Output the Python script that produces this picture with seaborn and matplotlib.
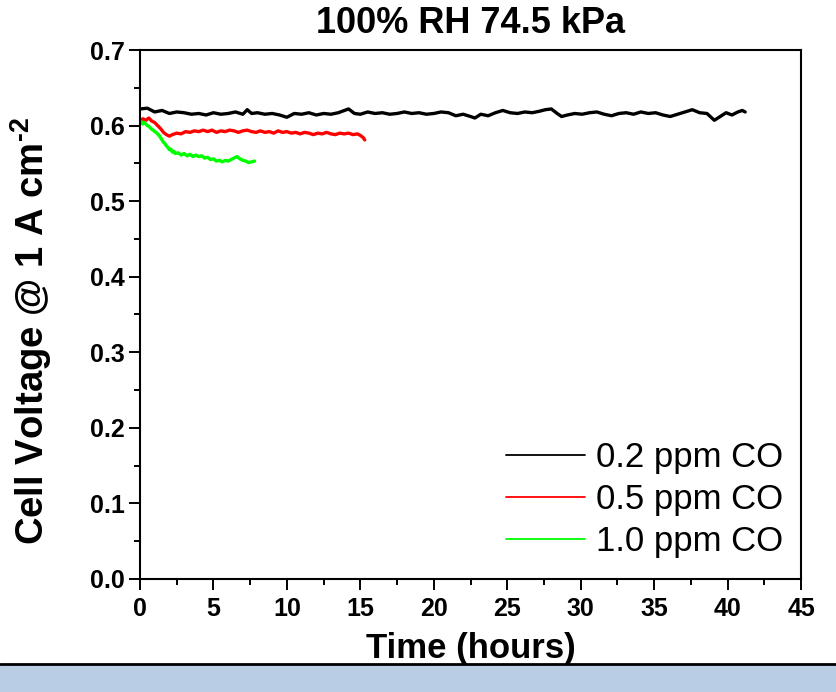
import numpy as np
import pandas as pd
import matplotlib
matplotlib.use("Agg")
import matplotlib.pyplot as plt
import seaborn as sns
from matplotlib.ticker import MultipleLocator, FormatStrFormatter
from matplotlib.patches import Rectangle
from matplotlib.lines import Line2D

# ---------------- data ----------------
t_02 = [0.0, 0.5, 1.0, 1.5, 2.0, 2.5, 3.0, 3.5, 4.0, 4.5, 5.0, 5.5, 6.0, 6.5, 7.0, 7.3, 7.6,
        8.0, 8.5, 9.0, 9.5, 10.0, 10.5, 11.0, 11.5, 12.0, 12.5, 13.0, 13.5, 14.2, 14.6, 15.0,
        15.5, 16.0, 16.5, 17.0, 17.5, 18.0, 18.5, 19.0, 19.5, 20.0, 20.5, 21.0, 21.5, 22.0,
        22.5, 22.8, 23.2, 23.7, 24.2, 24.7, 25.2, 25.7, 26.2, 26.7, 27.2, 27.6, 28.0, 28.4,
        28.7, 29.1, 29.6, 30.1, 30.6, 31.1, 31.6, 32.1, 32.6, 33.1, 33.6, 34.1, 34.6, 35.1,
        35.6, 36.1, 36.6, 37.1, 37.6, 38.1, 38.6, 39.1, 39.5, 39.9, 40.3, 40.7, 41.0, 41.2]
v_02 = [0.622, 0.623, 0.618, 0.620, 0.616, 0.618, 0.617, 0.615, 0.616, 0.614, 0.617, 0.615,
        0.616, 0.618, 0.615, 0.621, 0.616, 0.617, 0.615, 0.616, 0.614, 0.611, 0.616, 0.615,
        0.617, 0.614, 0.616, 0.615, 0.617, 0.622, 0.616, 0.615, 0.618, 0.616, 0.617, 0.615,
        0.616, 0.618, 0.616, 0.617, 0.615, 0.616, 0.618, 0.617, 0.613, 0.615, 0.612, 0.610,
        0.615, 0.613, 0.617, 0.620, 0.617, 0.616, 0.618, 0.617, 0.619, 0.621, 0.622, 0.616,
        0.612, 0.614, 0.616, 0.615, 0.617, 0.618, 0.615, 0.613, 0.616, 0.617, 0.615, 0.618,
        0.616, 0.617, 0.614, 0.612, 0.615, 0.618, 0.621, 0.617, 0.616, 0.607, 0.612, 0.617,
        0.614, 0.618, 0.620, 0.618]

t_05 = [0.0, 0.2, 0.4, 0.6, 0.8, 1.0, 1.2, 1.4, 1.6, 1.8, 2.0, 2.2, 2.5, 2.8, 3.1, 3.4, 3.7,
        4.0, 4.3, 4.6, 4.9, 5.2, 5.5, 5.8, 6.1, 6.4, 6.7, 7.0, 7.3, 7.6, 7.9, 8.2, 8.5, 8.8,
        9.1, 9.4, 9.7, 10.0, 10.3, 10.6, 10.9, 11.2, 11.5, 11.8, 12.1, 12.4, 12.7, 13.0, 13.3,
        13.6, 13.9, 14.2, 14.5, 14.8, 15.0, 15.2, 15.3]
v_05 = [0.606, 0.609, 0.607, 0.610, 0.606, 0.604, 0.600, 0.596, 0.591, 0.588, 0.586, 0.588,
        0.590, 0.589, 0.592, 0.591, 0.593, 0.592, 0.594, 0.592, 0.594, 0.591, 0.593, 0.592,
        0.594, 0.593, 0.591, 0.593, 0.594, 0.592, 0.591, 0.593, 0.591, 0.592, 0.590, 0.593,
        0.591, 0.592, 0.590, 0.591, 0.589, 0.591, 0.590, 0.588, 0.590, 0.589, 0.591, 0.589,
        0.588, 0.590, 0.589, 0.590, 0.588, 0.589, 0.587, 0.584, 0.581]

t_10 = [0.0, 0.1, 0.2, 0.3, 0.4, 0.5, 0.6, 0.7, 0.8, 0.9, 1.0, 1.1, 1.2, 1.3, 1.4, 1.5, 1.6,
        1.7, 1.8, 1.9, 2.0, 2.1, 2.2, 2.3, 2.4, 2.6, 2.8, 3.0, 3.2, 3.4, 3.6, 3.8, 4.0, 4.2,
        4.4, 4.6, 4.8, 5.0, 5.2, 5.4, 5.6, 5.8, 6.0, 6.2, 6.4, 6.6, 6.8, 7.0, 7.2, 7.4, 7.6, 7.8]
v_10 = [0.603, 0.605, 0.602, 0.604, 0.602, 0.600, 0.599, 0.597, 0.595, 0.594, 0.592, 0.591,
        0.589, 0.587, 0.584, 0.581, 0.578, 0.576, 0.573, 0.571, 0.568, 0.569, 0.565, 0.566,
        0.563, 0.564, 0.561, 0.563, 0.560, 0.562, 0.559, 0.561, 0.559, 0.560, 0.557, 0.558,
        0.555, 0.556, 0.553, 0.554, 0.552, 0.554, 0.553, 0.555, 0.557, 0.559, 0.556, 0.554,
        0.553, 0.551, 0.552, 0.553]

series_names = ["0.2 ppm CO", "0.5 ppm CO", "1.0 ppm CO"]
series_colors = ["#000000", "#FF0000", "#00FF00"]
x_ticks = [0, 5, 10, 15, 20, 25, 30, 35, 40, 45]
y_ticks = [0.0, 0.1, 0.2, 0.3, 0.4, 0.5, 0.6, 0.7]
title_text = "100% RH 74.5 kPa"
x_label = "Time (hours)"
y_label = r"Cell Voltage @ 1 A cm$^{\text{-2}}$"

df = pd.concat([
    pd.DataFrame({"t": t_02, "v": v_02, "s": series_names[0]}),
    pd.DataFrame({"t": t_05, "v": v_05, "s": series_names[1]}),
    pd.DataFrame({"t": t_10, "v": v_10, "s": series_names[2]}),
], ignore_index=True)

# ---------------- style ----------------
sns.set_style("ticks")
plt.rcParams["font.family"] = ["Liberation Sans", "DejaVu Sans"]
plt.rcParams["mathtext.fontset"] = "custom"
plt.rcParams["mathtext.rm"] = "Liberation Sans:bold"
plt.rcParams["mathtext.bf"] = "Liberation Sans:bold"
for key in ["text.color", "axes.labelcolor", "xtick.color", "ytick.color", "axes.edgecolor"]:
    plt.rcParams[key] = "black"

fig = plt.figure(figsize=(8.36, 6.92), dpi=100)
W, H = 836, 692
ax = fig.add_axes([140 / W, 1 - 579 / H, (801 - 140) / W, (579 - 50) / H])

sns.lineplot(data=df, x="t", y="v", hue="s", hue_order=series_names,
             palette=dict(zip(series_names, series_colors)), linewidth=2.4,
             sort=False, estimator=None, ax=ax, legend=False)

ax.set_xlim(0, 45)
ax.set_ylim(0, 0.7)
ax.set_xticks(x_ticks)
ax.set_yticks(y_ticks)
ax.xaxis.set_minor_locator(MultipleLocator(2.5))
ax.yaxis.set_minor_locator(MultipleLocator(0.05))
ax.yaxis.set_major_formatter(FormatStrFormatter("%.1f"))

for sp in ax.spines.values():
    sp.set_visible(True)
    sp.set_linewidth(1.5)
    sp.set_color("black")

ax.tick_params(axis="both", which="major", direction="out", length=8, width=1.4,
               labelsize=18, color="black", labelcolor="black")
ax.tick_params(axis="both", which="minor", direction="out", length=4, width=1.4,
               color="black")
ax.tick_params(axis="x", which="both", top=False, pad=5)
ax.tick_params(axis="y", which="both", right=False, pad=3)
for lab in ax.get_xticklabels() + ax.get_yticklabels():
    lab.set_fontweight("bold")

ax.set_xlabel(x_label, fontsize=25, fontweight="bold", labelpad=8)
ax.set_ylabel(y_label, fontsize=27.5, fontweight="bold")
ax.yaxis.set_label_coords((54 - 140) / 661, (579 - 331) / 529)
ax.set_title(title_text, fontsize=26, fontweight="bold", pad=12)

handles = [Line2D([], [], color=c, linewidth=1.3) for c in series_colors]
ax.legend(handles, series_names, loc="lower right",
          bbox_to_anchor=((783 - 140) / 661, 0.04), borderaxespad=0, borderpad=0,
          frameon=False, fontsize=25, handlelength=2.3, handletextpad=0.3,
          labelspacing=0.25)

# bottom frame band of the reference image
fig.add_artist(Rectangle((0, 0), 1, 27 / H, transform=fig.transFigure,
                         facecolor="#B9CDE5", edgecolor="none"))
fig.add_artist(Line2D([0, 1], [28 / H, 28 / H], transform=fig.transFigure,
                      color="black", linewidth=2))

fig.savefig("out.png", dpi=100, facecolor="white")
